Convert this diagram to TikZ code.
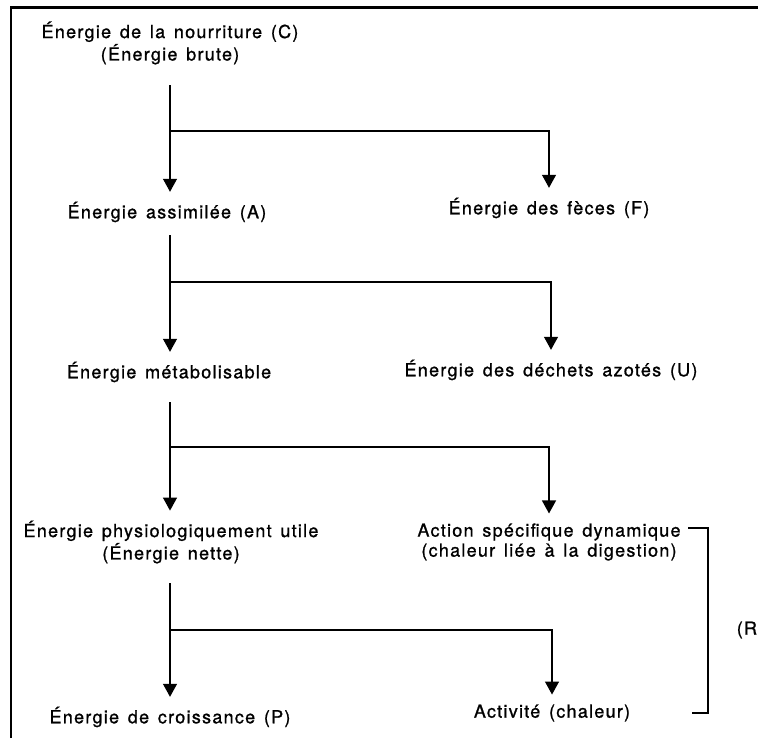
\documentclass[tikz,border=0pt]{standalone}
\usepackage{fontspec}
\setmainfont{TeX Gyre Heros}[LetterSpace=7,WordSpace=1.4,FakeBold=1]
\usetikzlibrary{arrows.meta}

\begin{document}
\begin{tikzpicture}[x=0.5pt, y=-0.5pt, >={Triangle[length=6.5pt,width=7pt]},
    etiq/.style={font=\fontsize{9}{10}\selectfont, align=center, inner sep=0pt, outer sep=5pt},
    fleche/.style={->, line width=0.6pt}]
    \useasboundingbox (0,0) rectangle (758,738);
    \draw[line width=1.1pt] (11,738) -- (11,7.5) -- (758,7.5);

    \node[etiq] (C)   at (170,43)  {Énergie de la nourriture (C)\\(Énergie brute)};
    \node[etiq] (A)   at (167,212) {Énergie assimilée (A)};
    \node[etiq] (F)   at (549,208) {Énergie des fèces (F)};
    \node[etiq] (M)   at (169,372) {Énergie métabolisable};
    \node[etiq] (U)   at (551,370) {Énergie des déchets azotés (U)};
    \node[etiq] (N)   at (171,542) {Énergie physiologiquement utile\\(Énergie nette)};
    \node[etiq] (ASD) at (549,542) {Action spécifique dynamique\\(chaleur liée à la digestion)};
    \node[etiq] (P)   at (170,717) {Énergie de croissance (P)};
    \node[etiq] (Act) at (552,713) {Activité (chaleur)};
    \node[etiq, anchor=east, outer sep=0pt] (R) at (757,630) {(R};

    \coordinate (s1) at (170,85);
    \coordinate (b1) at (170,131);
    \coordinate (s2) at (170,235);
    \coordinate (b2) at (170,282);
    \coordinate (s3) at (170,402);
    \coordinate (b3) at (170,447);
    \coordinate (s4) at (170,583);
    \coordinate (b4) at (170,630);

    \draw[fleche] (s1) -- (s1 |- A.north);
    \draw[fleche] (b1) -| (F.north);
    \draw[fleche] (s2) -- (s2 |- M.north);
    \draw[fleche] (b2) -| (U.north);
    \draw[fleche] (s3) -- (s3 |- N.north);
    \draw[fleche] (b3) -| (ASD.north);
    \draw[fleche] (s4) -- (s4 |- P.north);
    \draw[fleche] (b4) -| (Act.north);

    \coordinate (rh) at (708,528);
    \coordinate (rb) at (708,713);
    \draw[line width=0.6pt] (688,528) -- (rh) -- (rb) -- (692,713);
\end{tikzpicture}
\end{document}
